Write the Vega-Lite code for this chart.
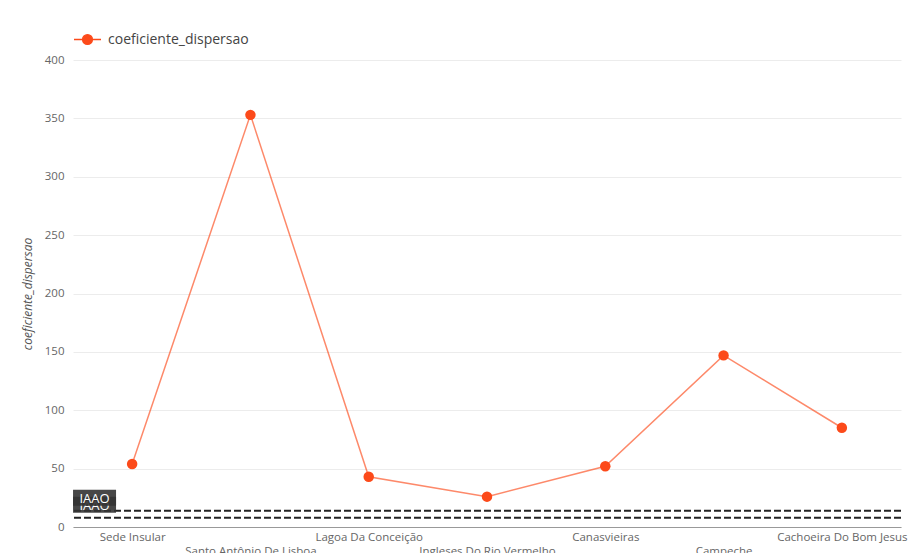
{
  "$schema": "https://vega.github.io/schema/vega-lite/v6.json",
  "width": 828,
  "height": 467,
  "autosize": {"type": "none"},
  "padding": {"left": 73, "top": 60, "right": 14, "bottom": 26},
  "background": "white",
  "config": {
    "font": "Open Sans",
    "view": {"stroke": null},
    "axis": {
      "labelFont": "Open Sans",
      "titleFont": "Open Sans",
      "labelColor": "#666666",
      "titleColor": "#555555",
      "gridColor": "#ececec",
      "gridWidth": 1,
      "ticks": false,
      "domain": false
    }
  },
  "datasets": {
    "bairros": [
      {"bairro": "Sede Insular", "coeficiente_dispersao": 54},
      {"bairro": "Santo Antônio De Lisboa", "coeficiente_dispersao": 353},
      {"bairro": "Lagoa Da Conceição", "coeficiente_dispersao": 43},
      {"bairro": "Ingleses Do Rio Vermelho", "coeficiente_dispersao": 26},
      {"bairro": "Canasvieiras", "coeficiente_dispersao": 52},
      {"bairro": "Campeche", "coeficiente_dispersao": 147},
      {"bairro": "Cachoeira Do Bom Jesus", "coeficiente_dispersao": 85}
    ],
    "referencias": [
      {"referencia": "IAAO", "valor": 8},
      {"referencia": "IAAO", "valor": 14}
    ]
  },
  "layer": [
    {
      "data": {"name": "bairros"},
      "mark": {"type": "line", "strokeWidth": 1.5, "strokeOpacity": 0.65},
      "encoding": {
        "x": {
          "field": "bairro",
          "type": "nominal",
          "sort": null,
          "axis": {
            "title": null,
            "labelAngle": 0,
            "labelFontSize": 11.5,
            "labelPadding": 4,
            "labelLineHeight": 14,
            "labelOverlap": false,
            "labelLimit": 0,
            "domain": true,
            "domainColor": "#999999",
            "grid": false,
            "labelExpr": "indexof(['Sede Insular','Santo Antônio De Lisboa','Lagoa Da Conceição','Ingleses Do Rio Vermelho','Canasvieiras','Campeche','Cachoeira Do Bom Jesus'], datum.value) % 2 === 1 ? ['', datum.label] : datum.label"
          }
        },
        "y": {
          "field": "coeficiente_dispersao",
          "type": "quantitative",
          "scale": {"domain": [0, 400], "nice": false},
          "axis": {
            "title": "coeficiente_dispersao",
            "titleFontStyle": "italic",
            "titleFontWeight": "normal",
            "titleFontSize": 12,
            "titlePadding": 10,
            "labelFontSize": 11.5,
            "labelPadding": 9,
            "grid": true,
            "values": [0, 25, 50, 75, 100, 125, 150, 175, 200, 225, 250, 275, 300, 325, 350, 375, 400],
            "labelExpr": "datum.value % 50 === 0 ? datum.label : ''"
          }
        },
        "color": {
          "datum": "coeficiente_dispersao",
          "scale": {"range": ["#fc4a1a"]},
          "legend": {
            "orient": "none",
            "legendX": 0,
            "legendY": -35,
            "title": null,
            "symbolType": "M-1,0L-0.36,0M0.36,0L1,0M-0.36,0A0.36,0.36 0 1,1 0.36,0A0.36,0.36 0 1,1 -0.36,0Z",
            "symbolSize": 729,
            "symbolStrokeWidth": 1.5,
            "symbolOpacity": 1,
            "labelFont": "Open Sans",
            "labelFontSize": 14,
            "labelColor": "#444444",
            "labelOffset": 6,
            "encode": {
              "symbols": {
                "update": {
                  "fill": {"value": "#fc4a1a"},
                  "stroke": {"value": "#fc4a1a"},
                  "opacity": {"value": 1}
                }
              }
            }
          }
        }
      }
    },
    {
      "data": {"name": "bairros"},
      "mark": {"type": "point", "filled": true, "size": 110, "opacity": 1},
      "encoding": {
        "x": {"field": "bairro", "type": "nominal", "sort": null},
        "y": {"field": "coeficiente_dispersao", "type": "quantitative"},
        "color": {"datum": "coeficiente_dispersao"}
      }
    },
    {
      "data": {"name": "referencias"},
      "mark": {"type": "rule", "strokeDash": [7, 3], "strokeWidth": 2, "color": "#222222"},
      "encoding": {
        "y": {"field": "valor", "type": "quantitative"}
      }
    },
    {
      "data": {"name": "referencias"},
      "transform": [{"filter": "datum.valor === 8"}],
      "mark": {
        "type": "point",
        "shape": "M-1,-0.372L1,-0.372L1,0.372L-1,0.372Z",
        "filled": true,
        "color": "#333333",
        "opacity": 0.9,
        "strokeWidth": 0,
        "size": 1849,
        "xOffset": -37.6,
        "yOffset": -13
      },
      "encoding": {
        "x": {"datum": "Sede Insular", "type": "nominal"},
        "y": {"field": "valor", "type": "quantitative"}
      }
    },
    {
      "data": {"name": "referencias"},
      "transform": [{"filter": "datum.valor === 8"}],
      "mark": {
        "type": "text",
        "color": "white",
        "fontSize": 13,
        "align": "center",
        "baseline": "middle",
        "xOffset": -37.6,
        "yOffset": -12
      },
      "encoding": {
        "x": {"datum": "Sede Insular", "type": "nominal"},
        "y": {"field": "valor", "type": "quantitative"},
        "text": {"field": "referencia"}
      }
    },
    {
      "data": {"name": "referencias"},
      "transform": [{"filter": "datum.valor === 14"}],
      "mark": {
        "type": "point",
        "shape": "M-1,-0.372L1,-0.372L1,0.372L-1,0.372Z",
        "filled": true,
        "color": "#333333",
        "opacity": 0.9,
        "strokeWidth": 0,
        "size": 1849,
        "xOffset": -37.6,
        "yOffset": -13
      },
      "encoding": {
        "x": {"datum": "Sede Insular", "type": "nominal"},
        "y": {"field": "valor", "type": "quantitative"}
      }
    },
    {
      "data": {"name": "referencias"},
      "transform": [{"filter": "datum.valor === 14"}],
      "mark": {
        "type": "text",
        "color": "white",
        "fontSize": 13,
        "align": "center",
        "baseline": "middle",
        "xOffset": -37.6,
        "yOffset": -12
      },
      "encoding": {
        "x": {"datum": "Sede Insular", "type": "nominal"},
        "y": {"field": "valor", "type": "quantitative"},
        "text": {"field": "referencia"}
      }
    }
  ]
}
